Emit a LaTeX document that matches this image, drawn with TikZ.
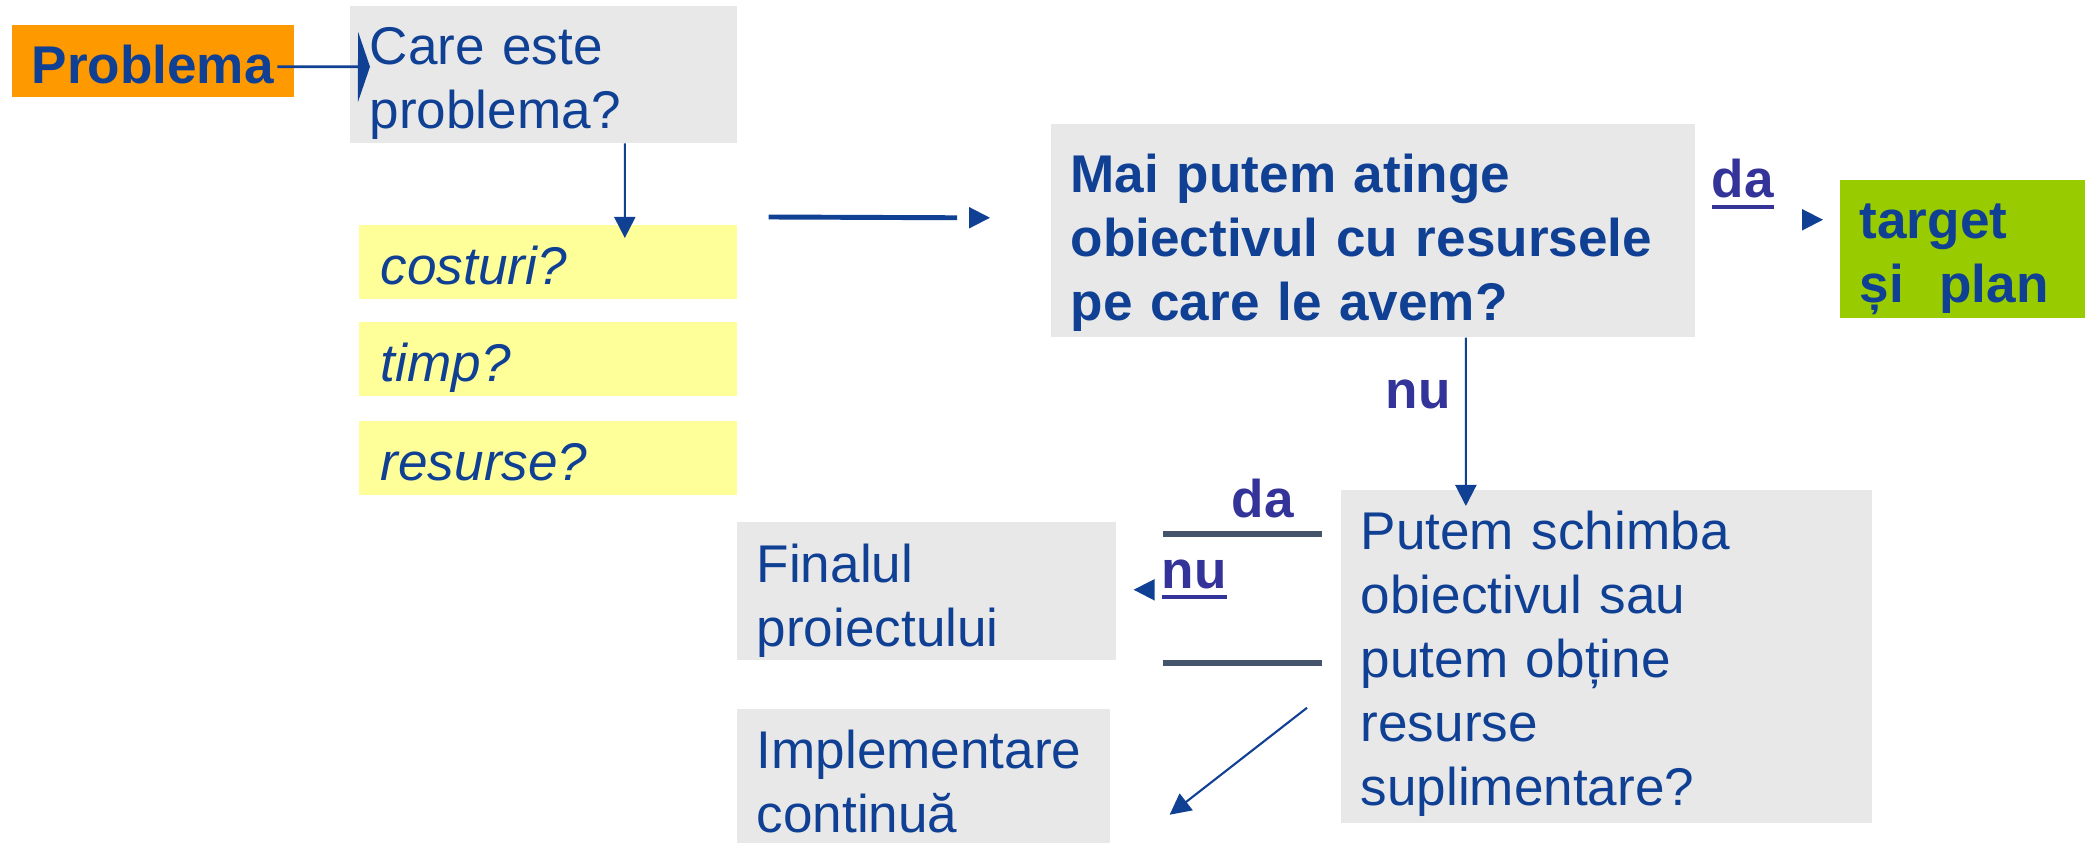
\documentclass[tikz,border=0pt]{standalone}
\usepackage{fontspec}
\setmainfont{Liberation Sans}
\usetikzlibrary{arrows.meta,calc}
\definecolor{inkblue}{RGB}{16,64,148}
\definecolor{labblue}{RGB}{51,51,153}
\definecolor{slate}{RGB}{68,84,106}
\definecolor{boxgray}{RGB}{232,232,232}
\definecolor{probor}{RGB}{255,153,0}
\definecolor{planlime}{RGB}{153,204,0}
\definecolor{askyellow}{RGB}{255,255,153}
\newcommand{\undl}[1]{\setbox0\hbox{#1}\rlap{\rule[-3pt]{\wd0}{0.9pt}}\box0}
\hyphenpenalty=10000

\begin{document}
\begin{tikzpicture}[x=0.01cm, y=-0.01cm,
  panel/.style={anchor=north west, fill=boxgray, inner xsep=2mm, inner ysep=0pt, align=left, text=inkblue, font=\fontsize{15.1}{18.2}\selectfont},
  ask/.style={panel, fill=askyellow, inner xsep=2.2mm, text width=3.34cm, text height=6mm, text depth=1.4mm, font=\fontsize{15.1}{18.2}\selectfont\itshape},
  lab/.style={anchor=base west, inner sep=0pt, text=labblue, font=\fontsize{15.1}{18.2}\selectfont\bfseries},
  link/.style={draw=inkblue, line width=0.6pt, -{Triangle[length=2.1mm,width=2.1mm]}},
  bar/.style={draw=slate, line width=1.7pt}]
\useasboundingbox (0,0) rectangle (2085,843);

% Boxes
\node[panel, fill=probor, minimum width=2.79cm, text height=5.9mm, text depth=1.3mm, font=\fontsize{15.1}{18.2}\selectfont\bfseries] (prob) at (11,24) {Problema};
\node[panel, text width=3.47cm, text height=5.9mm, text depth=7.8mm] (care) at (349,5) {Care este\\problema?};
\node[ask] (cost) at (358,224) {costuri?};
\node[ask] (timp) at (358,321) {timp?};
\node[ask] (res) at (358,420) {resurse?};
\node[panel, text width=6.04cm, text height=6.9mm, text depth=14.4mm, font=\fontsize{15.1}{18.2}\selectfont\bfseries] (mai) at (1050,123) {Mai putem atinge\\obiectivul cu resursele\\pe care le avem?};
\node[panel, fill=planlime, text width=2.1cm, text height=5.9mm, text depth=7.9mm, font=\fontsize{15.1}{18.2}\selectfont\bfseries] (target) at (1839,179) {target\\și~~plan};
\node[panel, text width=4.91cm, text height=6mm, text depth=27.3mm] (schimb) at (1340,489) {Putem schimba\\obiectivul sau\\putem obține\\resurse\\suplimentare?};
\node[panel, text width=3.39cm, text height=6.1mm, text depth=7.7mm] (final) at (736,521) {Finalul\\proiectului};
\node[panel, text width=3.33cm, text height=6mm, text depth=7.5mm] (impl) at (736,708) {Implementare\\continuă};

% Labels
\node[lab] (da1) at (1711,198) {\undl{da}};
\node[lab] (nu1) at (1385,409) {nu};
\node[lab] (da2) at (1231,517) {da};
\node[lab] (nu2) at (1161,588) {\undl{nu}};

% Arrows
\draw[link, line width=0.8pt, -{Triangle[length=1.2mm,width=7mm]}] ($(prob.east)+(-17,6)$) -- ($(care.west)+(21,-7.5)$);
\draw[link] ($(care.south)+(81.5,0)$) -- ($(cost.north)+(77,14)$);
\draw[link, line width=1.4pt, -] ($(cost.north east)+(31,-7)$) -- ($(mai.west)+(-93,-12.5)$);
\draw[link] ($(mai.west)+(-81,-12.5)$) -- ($(mai.west)+(-60,-12.5)$);
\draw[link] ($(mai.east)+(108,-10.5)$) -- ($(target.west)+(-16,-29)$);
\draw[link] ($(mai.south)+(93,0)$) -- ($(schimb.north)+(-140.5,17)$);
\draw[bar] ($(schimb.west)+(-177,-122.5)$) -- ($(schimb.west)+(-18,-122.5)$);
\draw[bar] ($(schimb.west)+(-177,6.5)$) -- ($(schimb.west)+(-18,6.5)$);
\draw[link] ($(schimb.west)+(-187,-66.5)$) -- ($(final.east)+(17,-1)$);
\draw[link] ($(schimb.west)+(-33,51.5)$) -- ($(impl.east)+(59,38.5)$);
\end{tikzpicture}
\end{document}
